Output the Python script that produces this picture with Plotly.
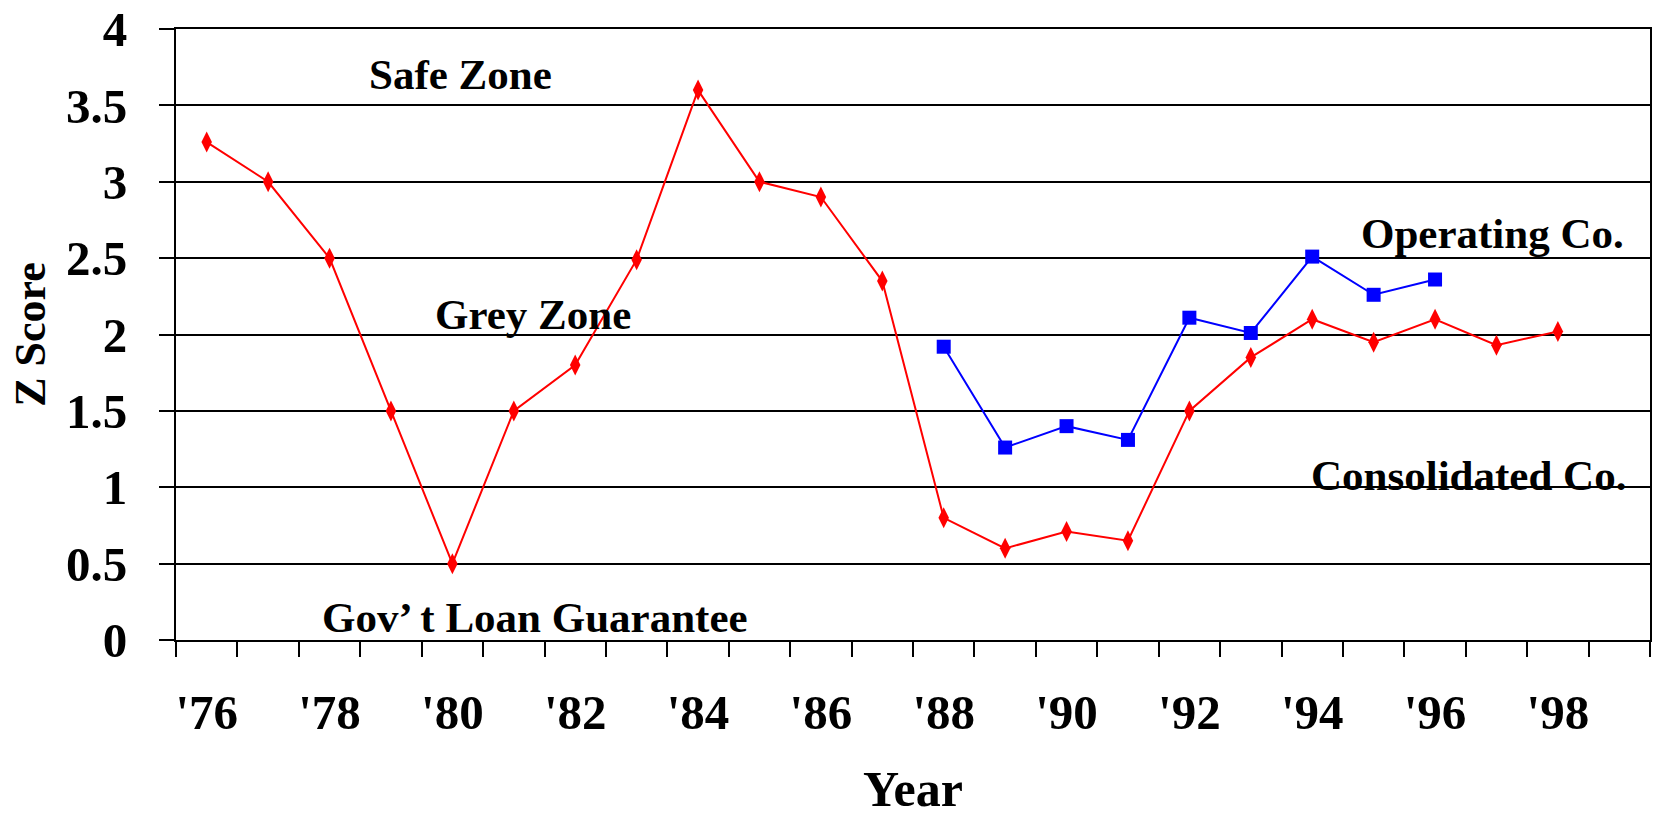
import plotly.graph_objects as go

# Z-score history
years = list(range(1976, 1999))
consolidated = [3.26, 3.0, 2.5, 1.5, 0.5, 1.5, 1.8, 2.49, 3.6, 3.0, 2.9, 2.35,
                0.8, 0.6, 0.71, 0.65, 1.5, 1.85, 2.1, 1.95, 2.1, 1.93, 2.02]
operating_years = list(range(1988, 1997))
operating = [1.92, 1.26, 1.40, 1.31, 2.11, 2.01, 2.51, 2.26, 2.36]

tick_years = list(range(1976, 1999, 2))
tick_labels = ["'" + str(y)[2:] for y in tick_years]

FONT = "Liberation Serif"

fig = go.Figure()
fig.add_trace(go.Scatter(
    x=years, y=consolidated, mode="lines+markers", name="Consolidated Co.",
    line=dict(color="#FF0000", width=2),
    marker=dict(symbol="diamond-tall", size=15, color="#FF0000"),
))
fig.add_trace(go.Scatter(
    x=operating_years, y=operating, mode="lines+markers", name="Operating Co.",
    line=dict(color="#0000FF", width=2),
    marker=dict(symbol="square", size=14, color="#0000FF"),
))

labels = [
    ("Safe Zone", 1980.14, 3.705),
    ("Grey Zone", 1981.31, 2.134),
    ("Gov\u2019 t Loan Guarantee", 1981.35, 0.15),
    ("Operating Co.", 1996.93, 2.66),
    ("Consolidated Co.", 1996.54, 1.08),
]
for text, xv, yv in labels:
    fig.add_annotation(x=xv, y=yv, text="<b>" + text + "</b>", showarrow=False,
                       xanchor="center", yanchor="middle",
                       font=dict(family=FONT, size=43, color="black"))

fig.update_layout(
    width=1654, height=817,
    margin=dict(l=176, r=4, t=29, b=177),
    paper_bgcolor="white", plot_bgcolor="white",
    showlegend=False,
    font=dict(family=FONT, color="black"),
)
fig.update_xaxes(
    range=[1975.5, 1999.5], automargin=False,
    tickmode="array", tickvals=tick_years, ticktext=tick_labels,
    ticks="", showgrid=False, zeroline=False,
    showline=True, linecolor="black", linewidth=2, mirror=True,
    tickfont=dict(family=FONT, size=49, color="black", weight="bold"),
    ticklabelstandoff=28,
    minor=dict(ticks="outside", ticklen=15, tickwidth=2, tickcolor="black",
               tick0=1975.5, dtick=1, showgrid=False),
    title=dict(text="<b>Year</b>", font=dict(family=FONT, size=50, color="black"),
               standoff=49),
)
fig.update_yaxes(
    range=[0, 4], automargin=False,
    tickvals=[0, 0.5, 1, 1.5, 2, 2.5, 3, 3.5, 4],
    ticktext=["0", "0.5", "1", "1.5", "2", "2.5", "3", "3.5", "4"],
    ticks="outside", ticklen=15, tickwidth=2, tickcolor="black",
    showgrid=True, gridcolor="black", gridwidth=2, zeroline=False,
    showline=True, linecolor="black", linewidth=2, mirror=True,
    tickfont=dict(family=FONT, size=49, color="black", weight="bold"),
    ticklabelstandoff=22,
    title=dict(text="<b>Z Score</b>", font=dict(family=FONT, size=44, color="black"),
               standoff=7),
)

fig.write_html("out.html")
